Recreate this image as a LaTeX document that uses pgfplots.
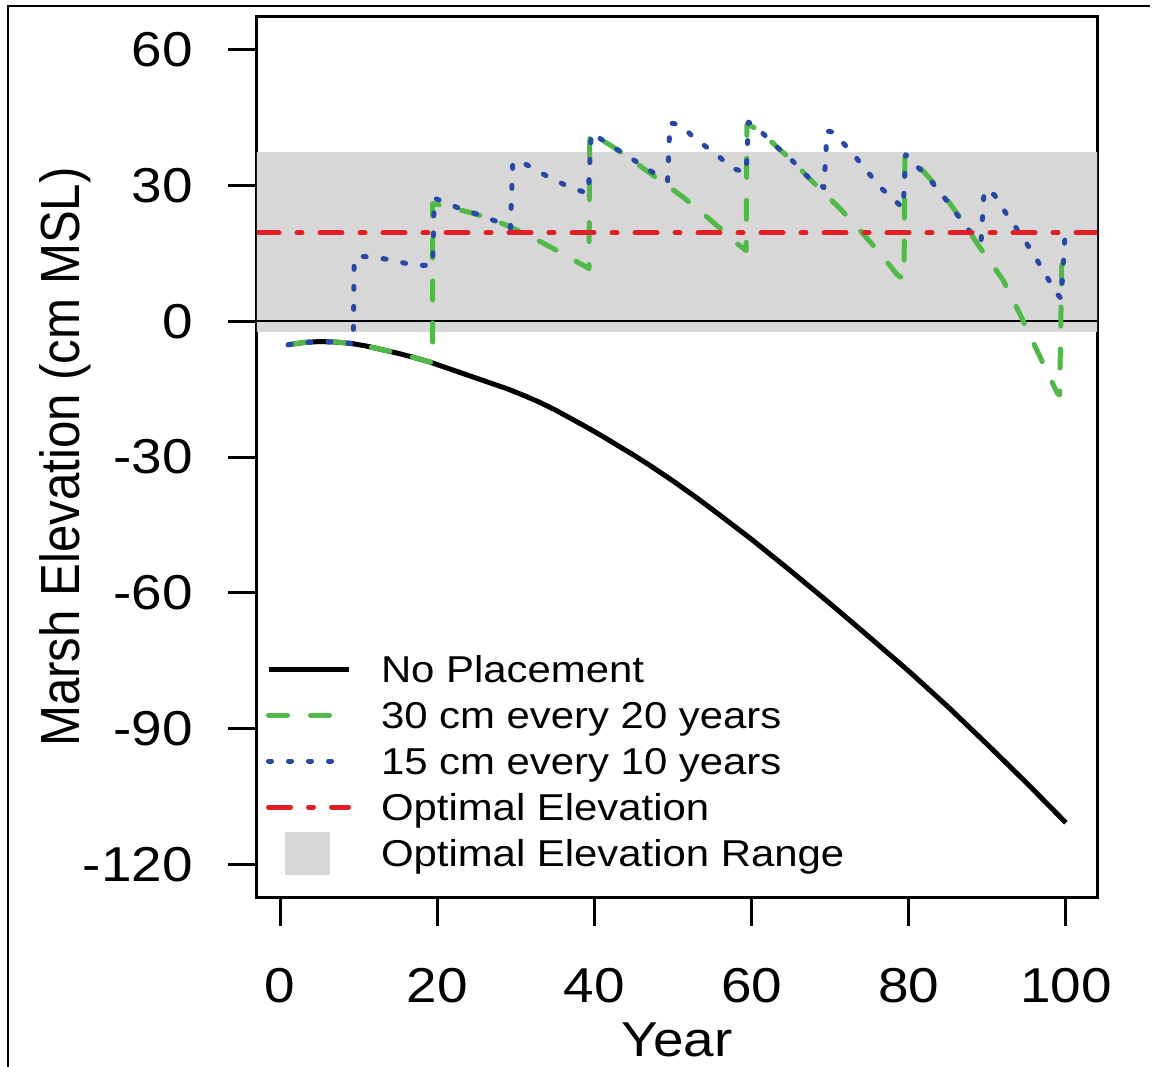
\documentclass[border=0pt]{standalone}
\usepackage{fontspec}
\setmainfont{Liberation Sans}[FakeStretch=1.12]
\newfontfamily\plainsans{Liberation Sans}
\usepackage{pgfplots}
\pgfplotsset{compat=1.18}
\definecolor{bandgray}{RGB}{215,215,215}
\definecolor{lgreen}{RGB}{80,185,72}
\definecolor{dblue}{RGB}{40,72,165}
\definecolor{lred}{RGB}{226,30,38}
\begin{document}
\begin{tikzpicture}
\useasboundingbox (-128.5pt,-84.5pt) rectangle (448.5pt,448.5pt);
\clip (-128.5pt,-84.5pt) rectangle (448.5pt,448.5pt);
\draw[line width=1pt] (-124.5pt,-95pt) -- (-124.5pt,445.5pt) -- (446.5pt,445.5pt);
\begin{axis}[
  at={(0pt,0pt)}, anchor=south west,
  scale only axis, width=420pt, height=440pt,
  xmin=-2.96, xmax=103.96, ymin=-127.2, ymax=67.2,
  xtick={0,20,40,60,80,100}, ytick={-120,-90,-60,-30,0,30,60},
  tick pos=left, tick align=outside, major tick length=14.5pt,
  every tick/.style={black, line width=1.5pt},
  axis line style={line width=1.5pt},
  tick label style={font=\fontsize{24.5}{29}\selectfont},
  /pgf/number format/assume math mode=true,
  xticklabel style={anchor=north, inner sep=0pt, yshift=-21pt},
  yticklabel style={anchor=east, inner sep=0pt, xshift=-17.5pt},
  xlabel={Year}, ylabel={Marsh Elevation (cm MSL)},
  every axis x label/.style={at={(axis description cs:0.5,0)}, anchor=base, yshift=-79.5pt, font=\fontsize{24.5}{29}\selectfont},
  every axis y label/.style={at={(axis description cs:-0.2286,0.5)}, anchor=center, rotate=90, yscale=1.12, font=\plainsans\fontsize{24.6}{29}\selectfont},
  legend style={draw=none, fill=none, at={(0,0)}, anchor=south west, xshift=4.5pt, yshift=10.5pt,
    inner sep=0pt, outer sep=0pt, row sep=0pt, column sep=0pt,
    font=\fontsize{18.7}{23}\selectfont,
    nodes={inner sep=0pt, text height=18.2pt, text depth=4.8pt}},
  legend cell align=left,
  legend image code/.code={\draw[#1] (0pt,0pt) -- (40pt,0pt); \path (55pt,0pt);},
]
\addplot[draw=none, fill=bandgray, forget plot] coordinates {(-10,-2.4) (115,-2.4) (115,37.4) (-10,37.4)} -- cycle;
\addplot[black, line width=1.3pt, forget plot] coordinates {(-10,0) (115,0)};
\addplot[black, line width=2.5pt, line join=round] coordinates {
(1,-5.2) (3,-4.7) (5,-4.5) (7,-4.6) (9,-4.9) (11,-5.5) (13,-6.3) (15,-7.1) (17,-8.0) (19,-9.0)
(21,-10.2) (23,-11.4) (25,-12.6) (27,-13.8) (29,-15.0) (31,-16.4) (33,-17.9) (35,-19.6) (37,-21.5)
(39,-23.4) (41,-25.4) (43,-27.5) (45,-29.6) (47,-31.8) (50,-35.3) (53,-39.0) (56,-42.9) (60,-48.2)
(65,-55.2) (70,-62.4) (75,-69.8) (80,-77.3) (85,-85.2) (90,-93.5) (95,-102.0) (100,-110.8)};
\addlegendentry{No Placement}
\addplot[lgreen, line width=2.5pt, line cap=round, line join=round, dash pattern=on 9.5pt off 11.5pt] coordinates {
(1,-5.2) (3,-4.7) (5,-4.5) (7,-4.6) (9,-4.9) (11,-5.5) (13,-6.3) (15,-7.1) (17,-8.0) (19.4,-9.2)
(19.4,26.0) (21,25.4) (24,24.1) (27,22.5) (29.6,20.6) (32,18.6) (34.7,16.1) (37,13.9) (39.3,11.6)
(39.4,41.6) (42,38.9) (44.5,36.0) (46.5,33.4) (49,30.3) (51.5,27.1) (53.8,23.8) (56,20.5) (58.1,17.2) (59.3,15.6)
(59.4,43.5) (61,42.2) (63.2,38.5) (65.1,35.6) (67.3,31.6) (69.3,28.2) (71.4,24.6) (73.3,21.0) (75.2,17.3) (77,13.6) (78.5,10.3) (79.4,9.3)
(79.5,36.7) (81.4,34.0) (83.3,30.3) (85.2,26.1) (87.1,21.4) (89,16.4) (90.5,12.8) (92,9.1) (94.5,0.3) (96.9,-8.6) (98.9,-15.9) (99.2,-16.3)
(99.5,15.0)};
\addlegendentry{30 cm every 20 years}
\addplot[dblue, line width=2.5pt, line cap=round, line join=round, dash pattern=on 1.5pt off 8.5pt] coordinates {
(1,-5.2) (3,-4.7) (5,-4.5) (7,-4.6) (9.3,-5.0)
(9.4,13.8) (10.5,14.3) (12,14.1) (13.9,13.6) (16.9,12.4) (19.4,12.3)
(19.6,27.2) (22.4,25.2) (25.3,23.5) (28.5,21.4) (29.3,20.5)
(29.6,35.2) (31,34.9) (33.9,32.1) (36.7,29.7) (39.2,28.2)
(39.6,41.6) (42,38.9) (45,35.6) (47.3,33.0) (49.3,31.0)
(49.6,43.8) (50.9,43.4) (53,40.0) (55.3,37.2) (57.5,33.8) (59.3,32.8)
(59.6,44.0) (61,42.2) (63.2,38.5) (65.1,35.6) (67.2,31.8) (69.2,29.5)
(69.6,42.0) (70.3,41.8) (72.5,37.8) (74.4,33.8) (76.3,29.7) (78.5,26.2) (79.3,25.0)
(79.6,36.8) (81.4,33.6) (83.1,30.4) (84.8,26.7) (86.7,22.3) (88.4,18.4) (89.2,17.5)
(89.6,29.0) (90.9,27.9) (92.5,23.5) (94.1,19.5) (95.8,15.1) (97.3,10.6) (98.8,6.2) (99.4,5.0)
(99.9,19.2)};
\addlegendentry{15 cm every 10 years}
\addplot[lred, line width=2.5pt, line cap=round, dash pattern=on 11pt off 9pt on 2.5pt off 9pt] coordinates {(-2.96,19.5) (103.96,19.5)};
\addlegendentry{Optimal Elevation}
\addlegendimage{legend image code/.code={\fill[bandgray] (8.5pt,-10.5pt) rectangle (30.5pt,10.5pt); \path (55pt,0pt);}}
\addlegendentry{Optimal Elevation Range}
\end{axis}
\end{tikzpicture}
\end{document}
